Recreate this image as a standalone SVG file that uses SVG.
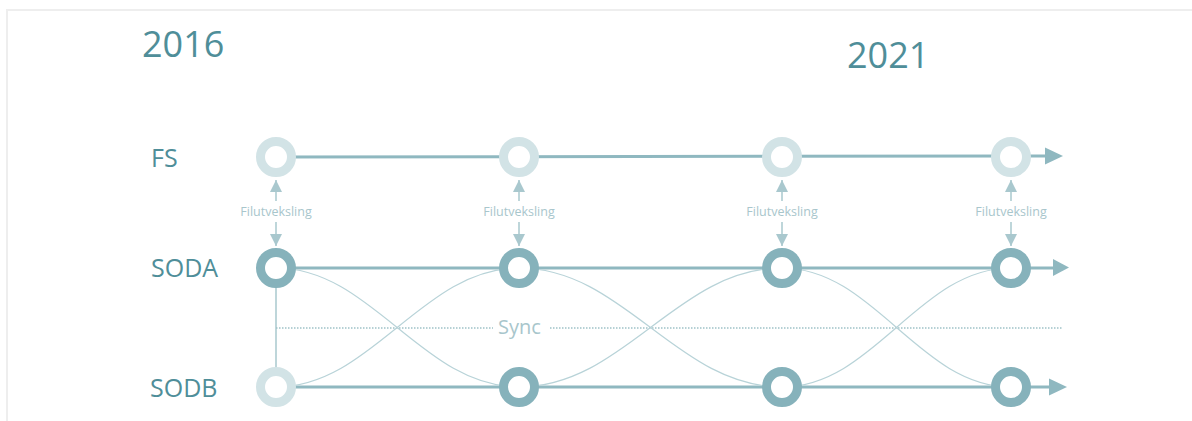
<svg xmlns="http://www.w3.org/2000/svg" width="1192" height="421" viewBox="0 0 1192 421">
<defs>
<style>
.frame{fill:none;stroke:#eeeeee;stroke-width:2}
.year{font-family:"Open Sans","DejaVu Sans",sans-serif;font-size:36px;fill:#4f8e99}
.lane{font-family:"Open Sans","DejaVu Sans",sans-serif;font-size:25px;fill:#4f8e99}
.small{font-family:"Open Sans","DejaVu Sans",sans-serif;font-size:12.5px;fill:#a8c6cc;text-anchor:middle}
.sync{font-family:"Open Sans","DejaVu Sans",sans-serif;font-size:20px;fill:#a8c6cc}
.main{fill:none;stroke:#8fb8c0;stroke-width:3}
.head{fill:#8fb8c0}
.thin{fill:none;stroke:#a9c8ce;stroke-width:1.5}
.curve{fill:none;stroke:#b8d3d8;stroke-width:1.2}
.dot{fill:none;stroke:#9fc2c8;stroke-width:1.5;stroke-dasharray:1.5 1.5}
.light{fill:#ffffff;stroke:#d2e3e6;stroke-width:9}
.dark{fill:#ffffff;stroke:#86b2bb;stroke-width:9}
</style>
<marker id="sh" viewBox="0 0 10 10" refX="10" refY="5" markerWidth="8" markerHeight="8" orient="auto" markerUnits="strokeWidth">
<path d="M0,0 L10,5 L0,10 z" fill="#a9c8ce"/>
</marker>
</defs>
<rect width="1192" height="421" fill="#ffffff"/>
<path class="frame" d="M7,421 V10 H1192"/>
<g id="labels">
<text class="year" x="142" y="57">2016</text>
<text class="year" x="847" y="68">2021</text>
<text class="lane" x="151" y="167">FS</text>
<text class="lane" x="151" y="277">SODA</text>
<text class="lane" x="150" y="397">SODB</text>
</g>
<g id="connectors">
<path class="main" d="M276,157 L1047,156"/>
<polygon class="head" points="1045,147.5 1063,156 1045,164.5"/>
<path class="main" d="M276,268 H1055"/>
<polygon class="head" points="1053,259 1069,267.5 1053,276"/>
<path class="main" d="M276,387 H1051"/>
<polygon class="head" points="1049,378.5 1067,387 1049,395.5"/>
<path class="thin" d="M276,288 V367"/>
<path class="dot" d="M276,328 H493 M550,328 H1063"/>
<text class="sync" x="498" y="334">Sync</text>
<path class="curve" d="M276,268 C372,268 422,387 519,387 M276,387 C372,387 422,268 519,268"/>
<path class="curve" d="M519,268 C624,268 677,387 782,387 M519,387 C624,387 677,268 782,268"/>
<path class="curve" d="M782,268 C874,268 919,387 1011,387 M782,387 C874,387 919,268 1011,268"/>
<g id="exchange">
<path class="thin" d="M276,201 V180" marker-end="url(#sh)"/>
<path class="thin" d="M276,222 V246" marker-end="url(#sh)"/>
<text class="small" x="276" y="216">Filutveksling</text>
<path class="thin" d="M519,201 V180" marker-end="url(#sh)"/>
<path class="thin" d="M519,222 V246" marker-end="url(#sh)"/>
<text class="small" x="519" y="216">Filutveksling</text>
<path class="thin" d="M782,201 V180" marker-end="url(#sh)"/>
<path class="thin" d="M782,222 V246" marker-end="url(#sh)"/>
<text class="small" x="782" y="216">Filutveksling</text>
<path class="thin" d="M1011,201 V180" marker-end="url(#sh)"/>
<path class="thin" d="M1011,222 V246" marker-end="url(#sh)"/>
<text class="small" x="1011" y="216">Filutveksling</text>
</g>
</g>
<g id="fs-1"><circle class="light" cx="276" cy="157" r="15.5"/></g>
<g id="fs-2"><circle class="light" cx="519" cy="157" r="15.5"/></g>
<g id="fs-3"><circle class="light" cx="782" cy="157" r="15.5"/></g>
<g id="fs-4"><circle class="light" cx="1011" cy="157" r="15.5"/></g>
<g id="soda-1"><circle class="dark" cx="276" cy="268" r="15.5"/></g>
<g id="soda-2"><circle class="dark" cx="519" cy="268" r="15.5"/></g>
<g id="soda-3"><circle class="dark" cx="782" cy="268" r="15.5"/></g>
<g id="soda-4"><circle class="dark" cx="1011" cy="268" r="15.5"/></g>
<g id="sodb-1"><circle class="light" cx="276" cy="387" r="15.5"/></g>
<g id="sodb-2"><circle class="dark" cx="519" cy="387" r="15.5"/></g>
<g id="sodb-3"><circle class="dark" cx="782" cy="387" r="15.5"/></g>
<g id="sodb-4"><circle class="dark" cx="1011" cy="387" r="15.5"/></g>
</svg>
